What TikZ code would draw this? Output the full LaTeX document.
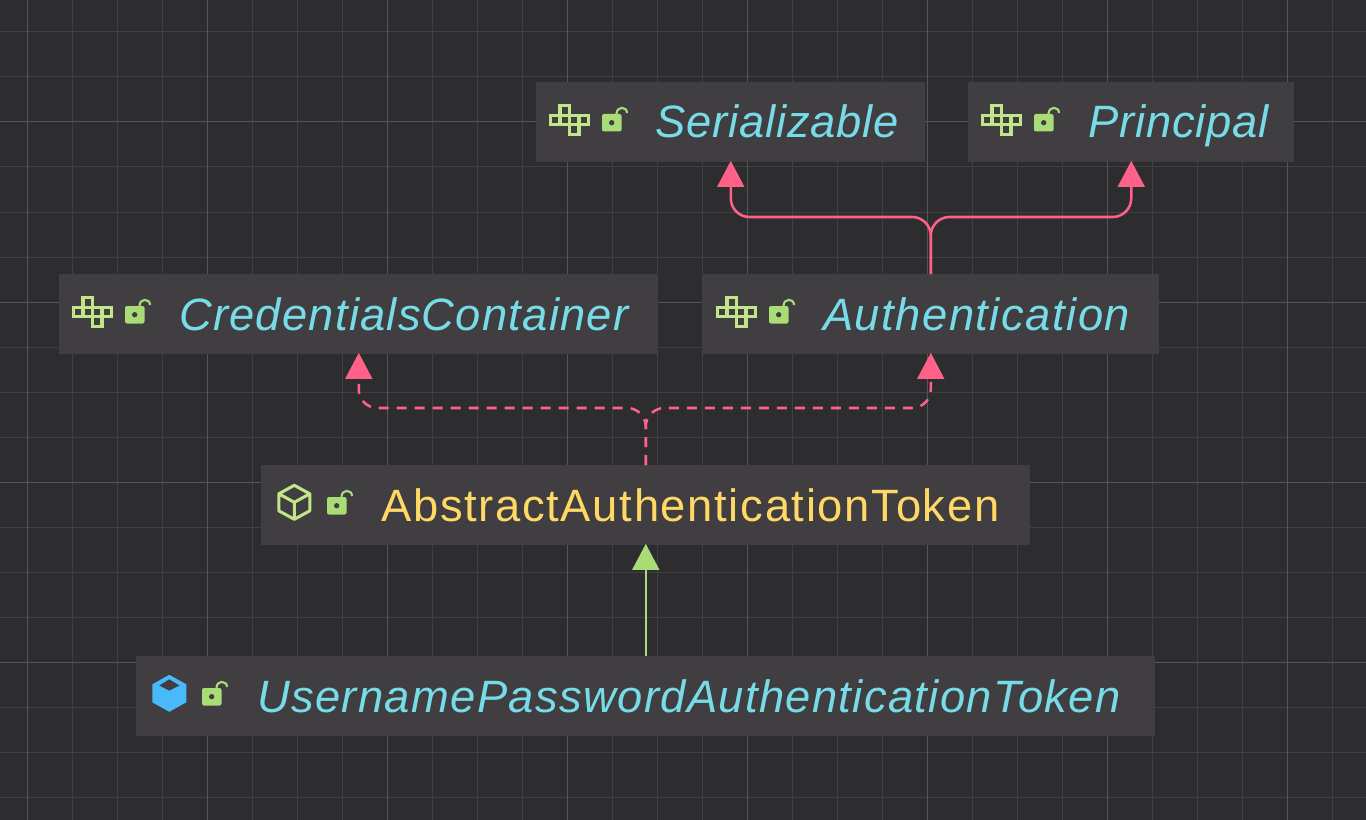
\documentclass[tikz,border=0pt]{standalone}
\usepackage{fontspec}
\setmainfont{Liberation Sans}
\usetikzlibrary{calc}
\usetikzlibrary{arrows.meta}
\definecolor{canvasbg}{HTML}{2D2C2F}
\definecolor{gridminor}{HTML}{403F42}
\definecolor{gridmajor}{HTML}{565558}
\definecolor{boxbg}{HTML}{403E41}
\definecolor{linkpink}{HTML}{FF6188}
\definecolor{linkgreen}{HTML}{A9DC76}
\definecolor{iconlight}{HTML}{C1E68A}
\definecolor{iconblue}{HTML}{49B9FC}
\definecolor{namecyan}{HTML}{78DCE8}
\definecolor{nameyellow}{HTML}{FFD866}
\tikzset{
  umlbox/.style={fill=boxbg,anchor=north west,inner sep=0pt,minimum height=60pt,minimum width=#1*0.75pt},
  umlname/.style={anchor=base west,inner sep=0pt,text=namecyan,font=\fontsize{34}{40}\selectfont\itshape\addfontfeature{LetterSpace=#1}},
  absname/.style={anchor=base west,inner sep=0pt,text=nameyellow,font=\fontsize{34}{40}\selectfont\addfontfeature{LetterSpace=#1}},
  implement/.style={linkpink,line width=1.9pt,rounded corners=14pt,shorten >=-1.3pt,-{Triangle[length=19.5pt,width=20pt]}},
  realize/.style={implement,dash pattern=on 7.5pt off 6pt},
  extend/.style={linkgreen,line width=1.9pt,shorten >=-1.3pt,-{Triangle[length=19.5pt,width=20pt]}},
  pics/lockicon/.style={code={
    \fill[linkgreen,rounded corners=1.5pt] (0,0) rectangle (19.5,17.5);
    \fill[boxbg] (9.7,8.7) circle (2pt);
    \draw[linkgreen,line width=1.6pt] (14.5,0) .. controls (14.5,-8) and (25,-8) .. (25,-1);
  }},
  pics/interfaceicon/.style={code={
    \draw[iconlight,line width=2.5pt] (9.4,0) rectangle (18.8,9.5) (0,9.5) rectangle (9.4,19)
      (9.4,9.5) rectangle (18.8,19) (18.8,9.5) rectangle (28.2,19) (28.2,9.5) rectangle (37.6,19)
      (18.8,19) rectangle (28.2,28.5);
  }},
  pics/abstracticon/.style={code={
    \draw[iconlight,line width=2.3pt,line join=round] (0,-17) -- (15.5,-8.5) -- (15.5,8.5) -- (0,17)
      -- (-15.5,8.5) -- (-15.5,-8.5) -- cycle (-15.5,-8.5) -- (0,0) -- (15.5,-8.5) (0,0) -- (0,17);
  }},
  pics/classicon/.style={code={
    \fill[iconblue] (0,-18.5) -- (17,-9) -- (17,9) -- (0,18.5) -- (-17,9) -- (-17,-9) -- cycle;
    \fill[boxbg] (0,-14) -- (10,-7.8) -- (0,-2.7) -- (-10,-7.8) -- cycle;
  }}
}
\begin{document}
\begin{tikzpicture}[x=0.75pt,y=-0.75pt]
  \useasboundingbox (0,0) rectangle (1366,820);
  \fill[canvasbg] (0,0) rectangle (1366,820);
  % grid
  \foreach \i in {27,72,...,1366} \draw[gridminor,line width=0.75pt] (\i,0) -- (\i,820);
  \foreach \j in {32,77,...,820} \draw[gridminor,line width=0.75pt] (0,\j) -- (1366,\j);
  \foreach \i in {27,207,...,1366} \draw[gridmajor,line width=0.75pt] (\i,0) -- (\i,820);
  \foreach \j in {122,302,482,662} \draw[gridmajor,line width=0.75pt] (0,\j) -- (1366,\j);
  % boxes
  \node[umlbox=389] (serial) at (536,82) {};
  \node[umlbox=326] (principal) at (968,82) {};
  \node[umlbox=599] (credentials) at (59,274) {};
  \node[umlbox=457] (authentication) at (702,274) {};
  \node[umlbox=769] (abstracttoken) at (261,465) {};
  \node[umlbox=1019] (usertoken) at (136,656) {};
  % names
  \node[umlname=1.9] (seriallabel) at (655,138) {Serializable};
  \node[umlname=1.8] (principallabel) at (1088,138) {Principal};
  \node[umlname=2.7] (credentialslabel) at (179,330) {CredentialsContainer};
  \node[umlname=3.3] (authenticationlabel) at (823,330) {Authentication};
  \node[absname=3.7] (abstractlabel) at (381,521) {AbstractAuthenticationToken};
  \node[umlname=3.0] (userlabel) at (257,712) {UsernamePasswordAuthenticationToken};
  % icons
  \pic at (550.7,105.7) {interfaceicon};
  \pic at (982.7,105.7) {interfaceicon};
  \pic at (73.7,297.7) {interfaceicon};
  \pic at (717.7,297.7) {interfaceicon};
  \pic at (294.3,502.3) {abstracticon};
  \pic at (169.3,693.3) {classicon};
  \pic at (602,114) {lockicon};
  \pic at (1034,114) {lockicon};
  \pic at (125,306) {lockicon};
  \pic at (769,306) {lockicon};
  \pic at (327,497) {lockicon};
  \pic at (202,688) {lockicon};
  % links
  \draw[implement] (authentication.north) -- ++(0,-57) -| (serial.south);
  \draw[implement] (authentication.north) -- ++(0,-57) -| (principal.south);
  \draw[realize] (abstracttoken.north) -- ++(0,-57) -| (credentials.south);
  \draw[realize] (abstracttoken.north) -- ++(0,-57) -| (authentication.south);
  \draw[extend] (usertoken.north) -- (abstracttoken.south);
\end{tikzpicture}
\end{document}
